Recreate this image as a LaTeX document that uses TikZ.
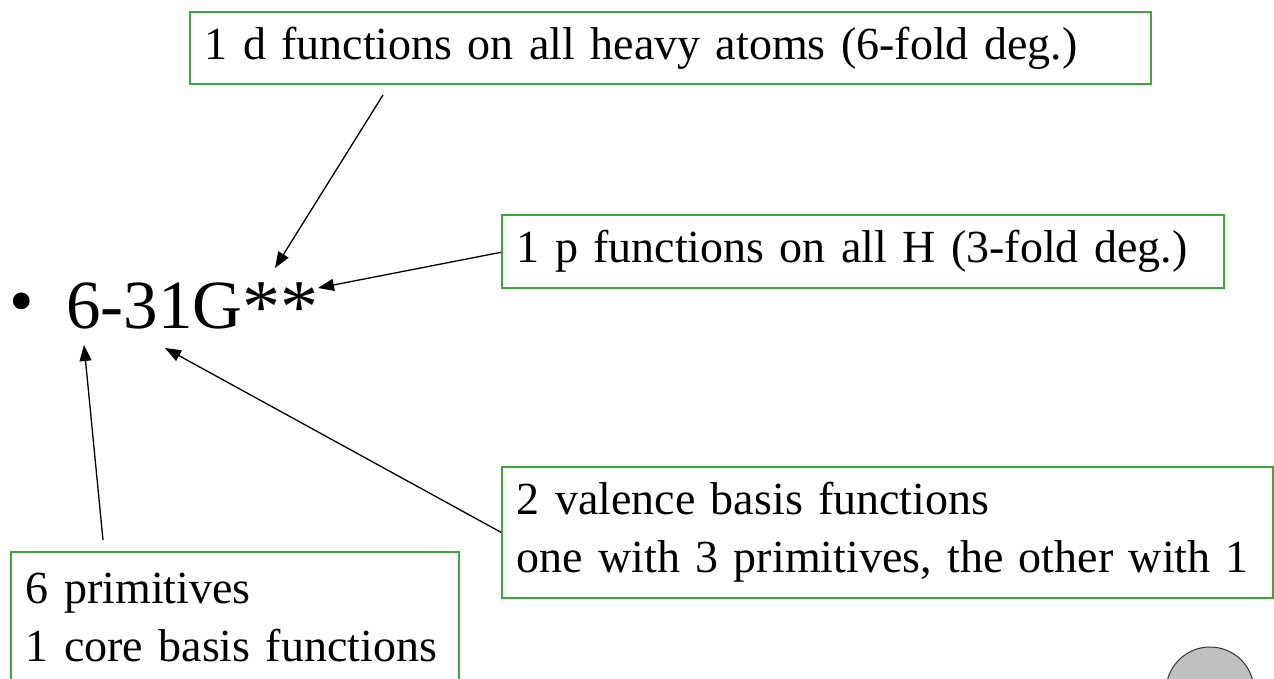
\documentclass[tikz,border=0pt]{standalone}
\usepackage{fontspec}
\setmainfont{Liberation Serif}
\usetikzlibrary{arrows.meta}
\definecolor{boxgreen}{RGB}{60,168,60}
\definecolor{knob}{RGB}{192,192,192}
\tikzset{
  note/.style={draw=boxgreen, line width=1.6pt, anchor=north west, align=left,
    inner xsep=15pt, inner ysep=0pt, font=\fontsize{46}{58}\selectfont},
  pointer/.style={draw=black, line width=1.3pt, -{Triangle[length=16pt,width=12pt]}},
}
\begin{document}
\begin{tikzpicture}[x=1pt,y=-1pt]
  \useasboundingbox (0,0) rectangle (1274,679);

  % basis set label
  \node[font=\fontsize{70}{70}\selectfont, anchor=base, inner sep=0pt] (dot) at (22,324) {•};
  \node[font=\fontsize{69}{70}\selectfont, anchor=base west, inner sep=0pt] (label) at (66,328)
    {6-31G{\fontsize{76}{76}\selectfont\raisebox{-4pt}{**}}};

  % annotation boxes
  \node[note, text width=931pt, minimum height=72pt] (dfun) at (189,11)
    {1 d functions on all heavy atoms (6-fold deg.)};
  \node[note, text width=692pt, minimum height=73pt] (pfun) at (501,214)
    {1 p functions on all H (3-fold deg.)};
  \node[note, text width=741pt, minimum height=131pt] (val) at (501,466)
    {2 valence basis functions\\one with 3 primitives, the other with 1};
  \node[note, text width=418pt, minimum height=131pt] (core) at (10,551)
    {6 primitives\\1 core basis functions};

  % arrow tips on the label and free tails
  \coordinate (tipd) at (275,268);
  \coordinate (tipp) at (318,288);
  \coordinate (tipv) at (165,348);
  \coordinate (tipc) at (84,345);
  \coordinate (taild) at (383,95);
  \coordinate (tailc) at (103,540);

  \draw[pointer] (taild) -- (tipd);
  \draw[pointer] (pfun.west) ++(0,1) -- (tipp);
  \draw[pointer] (val.west) -- (tipv);
  \draw[pointer] (tailc) -- (tipc);

  % round button in the corner
  \node[circle, draw=black!80, fill=knob, line width=1pt, minimum size=88pt, inner sep=0pt] (knobc) at (1210,691) {};
\end{tikzpicture}
\end{document}
